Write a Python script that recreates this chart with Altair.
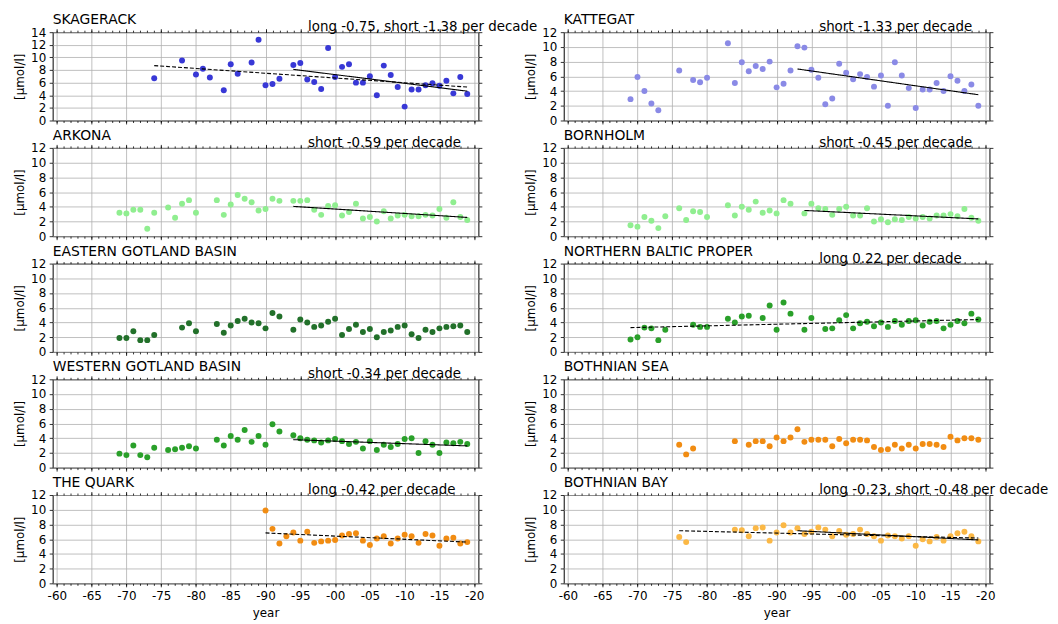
import altair as alt
import pandas as pd

FONT = "DejaVu Sans"

regions = ["SKAGERACK", "KATTEGAT", "ARKONA", "BORNHOLM", "EASTERN GOTLAND BASIN",
           "NORTHERN BALTIC PROPER", "WESTERN GOTLAND BASIN", "BOTHNIAN SEA",
           "THE QUARK", "BOTHNIAN BAY"]
colors = ["#3838d6", "#8a8ae6", "#90ee90", "#90ee90", "#22702a",
          "#2aa02a", "#2aa02a", "#f18c12", "#f18c12", "#fbb845"]
ymax = [14, 12, 12, 12, 12, 12, 12, 12, 12, 12]
notes = ["long -0.75, short -1.38 per decade", "short -1.33 per decade",
         "short -0.59 per decade", "short -0.45 per decade", "",
         "long 0.22 per decade", "short -0.34 per decade", "",
         "long -0.42 per decade", "long -0.23, short -0.48 per decade"]

skagerack_years = [1974, 1978, 1980, 1981, 1982, 1984, 1985, 1986, 1988, 1989, 1990, 1991, 1992,
                   1994, 1995, 1996, 1997, 1998, 1999, 2000, 2001, 2002, 2003, 2004, 2005, 2006,
                   2007, 2008, 2009, 2010, 2011, 2012, 2013, 2014, 2015, 2016, 2017, 2018, 2019]
skagerack_values = [6.7, 9.5, 7.3, 8.2, 6.8, 4.8, 8.9, 7.4, 9.2, 12.8, 5.6, 5.8, 6.6,
                    8.8, 9.1, 6.5, 6.1, 5.0, 11.5, 6.9, 8.5, 8.9, 6.0, 6.0, 7.0, 4.0,
                    8.7, 7.2, 5.3, 2.2, 4.9, 4.9, 5.6, 5.9, 5.5, 6.3, 4.3, 6.9, 4.2]

kattegat_years = [1969, 1970, 1971, 1972, 1973, 1976, 1978, 1979, 1980, 1983, 1984, 1985, 1986,
                  1987, 1988, 1989, 1990, 1991, 1992, 1993, 1994, 1995, 1996, 1997, 1998, 1999,
                  2000, 2001, 2002, 2003, 2004, 2005, 2006, 2007, 2008, 2009, 2010, 2011, 2012,
                  2013, 2014, 2015, 2016, 2017, 2018, 2019]
kattegat_values = [2.9, 5.9, 4.0, 2.3, 1.4, 6.8, 5.5, 5.2, 5.8, 10.5, 5.1, 7.9, 6.7,
                   7.4, 7.0, 8.0, 4.5, 5.0, 6.8, 10.1, 9.9, 6.9, 5.8, 2.2, 3.0, 7.7,
                   6.5, 5.6, 6.3, 5.9, 4.6, 6.1, 2.0, 7.9, 6.1, 4.4, 1.7, 4.2, 4.2,
                   5.1, 4.0, 6.0, 5.4, 4.0, 4.9, 2.0]

arkona_years = [1969, 1970, 1971, 1972, 1973, 1974, 1976, 1977, 1978, 1979, 1980, 1983, 1984,
                1985, 1986, 1987, 1988, 1989, 1990, 1991, 1992, 1994, 1995, 1996, 1997, 1998,
                1999, 2000, 2001, 2002, 2003, 2004, 2005, 2006, 2007, 2008, 2009, 2010, 2011,
                2012, 2013, 2014, 2015, 2016, 2017, 2018, 2019]
arkona_values = [3.2, 3.1, 3.6, 3.6, 1.0, 3.2, 3.9, 2.5, 4.4, 4.9, 3.2, 4.9, 2.9,
                 4.3, 5.6, 5.1, 4.6, 3.5, 3.7, 5.1, 4.8, 4.8, 4.8, 4.9, 3.6, 2.9,
                 4.1, 4.2, 2.8, 3.3, 4.4, 2.4, 2.6, 2.0, 3.4, 2.4, 2.8, 2.9, 2.7,
                 2.7, 2.9, 2.8, 3.7, 2.5, 4.6, 2.6, 2.2]

bornholm_years = [1969, 1970, 1971, 1972, 1973, 1974, 1976, 1977, 1978, 1979, 1980, 1983, 1984,
                  1985, 1986, 1987, 1988, 1989, 1990, 1991, 1992, 1994, 1995, 1996, 1997, 1998,
                  1999, 2000, 2001, 2002, 2003, 2004, 2005, 2006, 2007, 2008, 2009, 2010, 2011,
                  2012, 2013, 2014, 2015, 2016, 2017, 2018, 2019]
bornholm_values = [1.5, 1.3, 2.6, 2.1, 1.1, 2.7, 3.8, 2.2, 3.4, 3.3, 2.6, 4.2, 2.8,
                   4.0, 3.6, 4.7, 3.2, 3.5, 3.1, 4.9, 4.4, 3.1, 4.4, 3.8, 3.7, 2.9,
                   3.7, 4.0, 2.8, 2.8, 3.8, 2.0, 2.3, 1.9, 2.3, 2.2, 2.6, 2.4, 2.6,
                   2.4, 2.8, 2.8, 3.0, 2.7, 3.7, 2.5, 2.1]

egb_years = [1969, 1970, 1971, 1972, 1973, 1974, 1978, 1979, 1980, 1983, 1984, 1985, 1986,
             1987, 1988, 1989, 1990, 1991, 1992, 1994, 1995, 1996, 1997, 1998, 1999, 2000,
             2001, 2002, 2003, 2004, 2005, 2006, 2007, 2008, 2009, 2010, 2011, 2012, 2013,
             2014, 2015, 2016, 2017, 2018, 2019]
egb_values = [1.9, 1.9, 2.8, 1.6, 1.6, 2.3, 3.3, 3.9, 2.8, 3.8, 2.6, 3.6, 4.2,
              4.5, 4.0, 3.9, 3.2, 5.3, 4.8, 3.0, 4.4, 4.0, 3.4, 3.6, 4.1, 4.5,
              2.3, 3.1, 3.7, 2.7, 3.1, 2.0, 2.7, 2.9, 3.4, 3.6, 2.4, 1.9, 3.0,
              2.7, 3.2, 3.4, 3.5, 3.6, 2.7]

nbp_years = [1969, 1970, 1971, 1972, 1973, 1974, 1978, 1979, 1980, 1983, 1984, 1985, 1986,
             1988, 1989, 1990, 1991, 1992, 1994, 1995, 1997, 1998, 1999, 2000, 2001, 2002,
             2003, 2004, 2005, 2006, 2007, 2008, 2009, 2010, 2011, 2012, 2013, 2014, 2015,
             2016, 2017, 2018, 2019]
nbp_values = [1.7, 2.0, 3.3, 3.2, 1.6, 3.0, 3.7, 3.4, 3.4, 4.5, 4.0, 4.8, 4.9,
              4.6, 6.3, 3.0, 6.7, 5.2, 3.0, 4.6, 3.1, 3.2, 4.3, 5.0, 3.2, 3.9,
              4.1, 3.5, 4.0, 3.4, 4.2, 3.7, 4.2, 4.3, 3.6, 4.1, 4.2, 3.2, 3.7,
              4.2, 3.9, 5.2, 4.4]

wgb_years = [1969, 1970, 1971, 1972, 1973, 1974, 1976, 1977, 1978, 1979, 1980, 1983, 1984,
             1985, 1986, 1987, 1988, 1989, 1990, 1991, 1992, 1994, 1995, 1996, 1997, 1998,
             1999, 2000, 2001, 2002, 2003, 2004, 2005, 2006, 2007, 2008, 2009, 2010, 2011,
             2012, 2013, 2014, 2015, 2016, 2017, 2018, 2019]
wgb_values = [1.9, 1.7, 3.0, 1.7, 1.4, 2.7, 2.4, 2.5, 2.7, 2.9, 2.6, 3.8, 3.0,
              4.3, 3.8, 5.1, 3.5, 4.3, 3.1, 5.9, 4.9, 4.4, 4.0, 3.8, 3.7, 3.4,
              3.7, 3.9, 3.6, 3.2, 3.5, 2.6, 3.6, 2.4, 3.1, 2.8, 3.2, 3.9, 4.0,
              2.0, 3.6, 3.1, 2.0, 3.4, 3.3, 3.5, 3.2]

bsea_years = [1976, 1977, 1978, 1984, 1986, 1987, 1988, 1989, 1990, 1991, 1992, 1993, 1994,
              1995, 1996, 1997, 1998, 1999, 2000, 2001, 2002, 2003, 2004, 2005, 2006, 2007,
              2008, 2009, 2010, 2011, 2012, 2013, 2014, 2015, 2016, 2017, 2018, 2019]
bsea_values = [3.1, 1.8, 2.6, 3.6, 3.1, 3.6, 3.6, 2.9, 4.1, 3.6, 4.1, 5.2, 3.5,
               3.8, 3.8, 3.8, 2.9, 3.9, 3.3, 3.8, 3.8, 3.7, 2.8, 2.4, 2.5, 3.1,
               2.6, 3.1, 2.6, 3.2, 3.2, 3.1, 2.8, 4.2, 3.7, 4.0, 4.0, 3.8]

quark_years = [1990, 1991, 1992, 1993, 1994, 1995, 1996, 1997, 1998, 1999, 2000, 2001, 2002,
               2003, 2004, 2005, 2006, 2007, 2008, 2009, 2010, 2011, 2012, 2013, 2014, 2015,
               2016, 2017, 2018, 2019]
quark_values = [9.9, 7.4, 5.4, 6.4, 6.9, 5.8, 7.0, 5.5, 5.7, 5.8, 5.9, 6.5, 6.7,
                6.8, 5.8, 5.2, 6.1, 6.4, 5.4, 6.1, 6.6, 6.4, 5.5, 6.7, 6.5, 5.1,
                6.1, 6.2, 5.4, 5.6]

bbay_years = [1976, 1977, 1984, 1985, 1986, 1987, 1988, 1989, 1990, 1991, 1992, 1993, 1994,
              1995, 1996, 1997, 1998, 1999, 2000, 2001, 2002, 2003, 2004, 2005, 2006, 2007,
              2008, 2009, 2010, 2011, 2012, 2013, 2014, 2015, 2016, 2017, 2018, 2019]
bbay_values = [6.3, 5.6, 7.3, 7.2, 6.4, 7.5, 7.6, 5.8, 6.9, 7.9, 6.9, 7.5, 6.7,
               7.0, 7.6, 7.3, 6.4, 7.1, 6.6, 6.7, 7.3, 6.7, 6.4, 5.8, 6.5, 6.4,
               6.1, 6.4, 5.1, 6.0, 5.7, 6.3, 5.8, 6.4, 6.8, 7.0, 6.4, 5.7]

all_years = [skagerack_years, kattegat_years, arkona_years, bornholm_years, egb_years,
             nbp_years, wgb_years, bsea_years, quark_years, bbay_years]
all_values = [skagerack_values, kattegat_values, arkona_values, bornholm_values, egb_values,
              nbp_values, wgb_values, bsea_values, quark_values, bbay_values]

# trend segments: region index, kind, start year, start value, end year, end value
trend_region = [0, 0, 1, 2, 3, 5, 6, 8, 9, 9]
trend_kind = ["long", "short", "short", "short", "short", "long", "short", "long", "long", "short"]
trend_x1 = [1974, 1994, 1993, 1994, 1994, 1969, 1994, 1990, 1976, 1993]
trend_y1 = [8.7, 8.1, 7.0, 4.05, 3.5, 3.3, 3.8, 6.85, 7.15, 7.15]
trend_x2 = [2019, 2019, 2019, 2019, 2019, 2019, 2019, 2019, 2019, 2019]
trend_y2 = [5.3, 4.65, 3.5, 2.55, 2.35, 4.4, 2.95, 5.6, 6.15, 5.9]

major_ticks = list(range(1960, 2021, 5))
minor_ticks = list(range(1960, 2021, 1))

W, H = 429, 89
XDOM = [1959.4, 2020.6]

trends = pd.DataFrame({"region": trend_region, "kind": trend_kind, "x1": trend_x1,
                       "y1": trend_y1, "x2": trend_x2, "y2": trend_y2})


def panel(i):
    bottom = i >= 8
    df = pd.DataFrame({"year": all_years[i], "value": all_values[i]})
    xs = alt.Scale(domain=XDOM, nice=False, zero=False)
    ys = alt.Scale(domain=[0, ymax[i]], nice=False, zero=True)
    yt = list(range(0, ymax[i] + 1, 2))
    base = alt.Chart(df)

    x_main = alt.Axis(orient="bottom", values=major_ticks,
                      labelExpr="'-' + substring(toString(datum.value), 2, 4)",
                      labels=bottom, grid=True, tickSize=3.5, domain=False,
                      labelPadding=3.5, titlePadding=6)
    pts = base.mark_circle(size=36, opacity=1, color=colors[i]).encode(
        x=alt.X("year:Q", scale=xs, axis=x_main, title="year" if bottom else None),
        y=alt.Y("value:Q", scale=ys, title="[µmol/l]",
                axis=alt.Axis(orient="left", values=yt, grid=True, tickSize=3.5,
                              domain=False, labelPadding=3.5, titlePadding=4)),
    )
    top_right = base.mark_circle(opacity=0).encode(
        x=alt.X("year:Q", scale=xs, title=None,
                axis=alt.Axis(orient="top", values=major_ticks, labels=False, grid=False,
                              domain=False, tickSize=3.5)),
        y=alt.Y("value:Q", scale=ys, title=None,
                axis=alt.Axis(orient="right", values=yt, labels=False, grid=False,
                              domain=False, tickSize=3.5)),
    )
    minor_b = base.mark_circle(opacity=0).encode(
        x=alt.X("year:Q", scale=xs, title=None,
                axis=alt.Axis(orient="bottom", values=minor_ticks, labels=False, grid=False,
                              domain=False, tickSize=2)),
        y=alt.Y("value:Q", scale=ys, axis=None),
    )
    minor_t = base.mark_circle(opacity=0).encode(
        x=alt.X("year:Q", scale=xs, title=None,
                axis=alt.Axis(orient="top", values=minor_ticks, labels=False, grid=False,
                              domain=False, tickSize=2)),
        y=alt.Y("value:Q", scale=ys, axis=None),
    )
    layers = [pts, top_right, minor_b, minor_t]

    t = trends[trends["region"] == i]
    for kind, dash in (("long", [4, 2]), ("short", [1, 0])):
        tk = t[t["kind"] == kind]
        if len(tk):
            layers.append(
                alt.Chart(tk).mark_rule(color="black", strokeWidth=1.1, strokeDash=dash).encode(
                    x=alt.X("x1:Q", scale=xs, axis=None),
                    x2="x2:Q",
                    y=alt.Y("y1:Q", scale=ys, axis=None),
                    y2="y2:Q",
                )
            )
    # panel title (left) and trend note
    layers.append(
        alt.Chart(pd.DataFrame({"t": [regions[i]]})).mark_text(
            align="left", baseline="alphabetic", fontSize=14, font=FONT, color="black"
        ).encode(x=alt.value(0), y=alt.value(-8), text="t:N")
    )
    if notes[i]:
        layers.append(
            alt.Chart(pd.DataFrame({"t": [notes[i]]})).mark_text(
                align="left", baseline="alphabetic", fontSize=13.5, font=FONT, color="black"
            ).encode(x=alt.value(0.6 * W), y=alt.value(-1), text="t:N")
        )

    return alt.layer(*layers).resolve_axis(x="independent", y="independent").properties(
        width=W, height=H)


chart = alt.concat(*[panel(i) for i in range(10)], columns=2,
                   spacing={"row": 27.6, "column": 86}, bounds="flush").properties(
    padding={"left": 5, "top": 2, "right": 0, "bottom": 0}
).configure_view(stroke="black", strokeWidth=1).configure_axis(
    labelFont=FONT, titleFont=FONT, labelFontSize=12, titleFontSize=12,
    labelColor="black", titleColor="black", tickColor="black", titleFontWeight="normal",
    gridColor="#b0b0b0", gridWidth=0.8, tickWidth=0.8
)

chart.save("out.html", embed_options={"renderer": "svg", "actions": False})
